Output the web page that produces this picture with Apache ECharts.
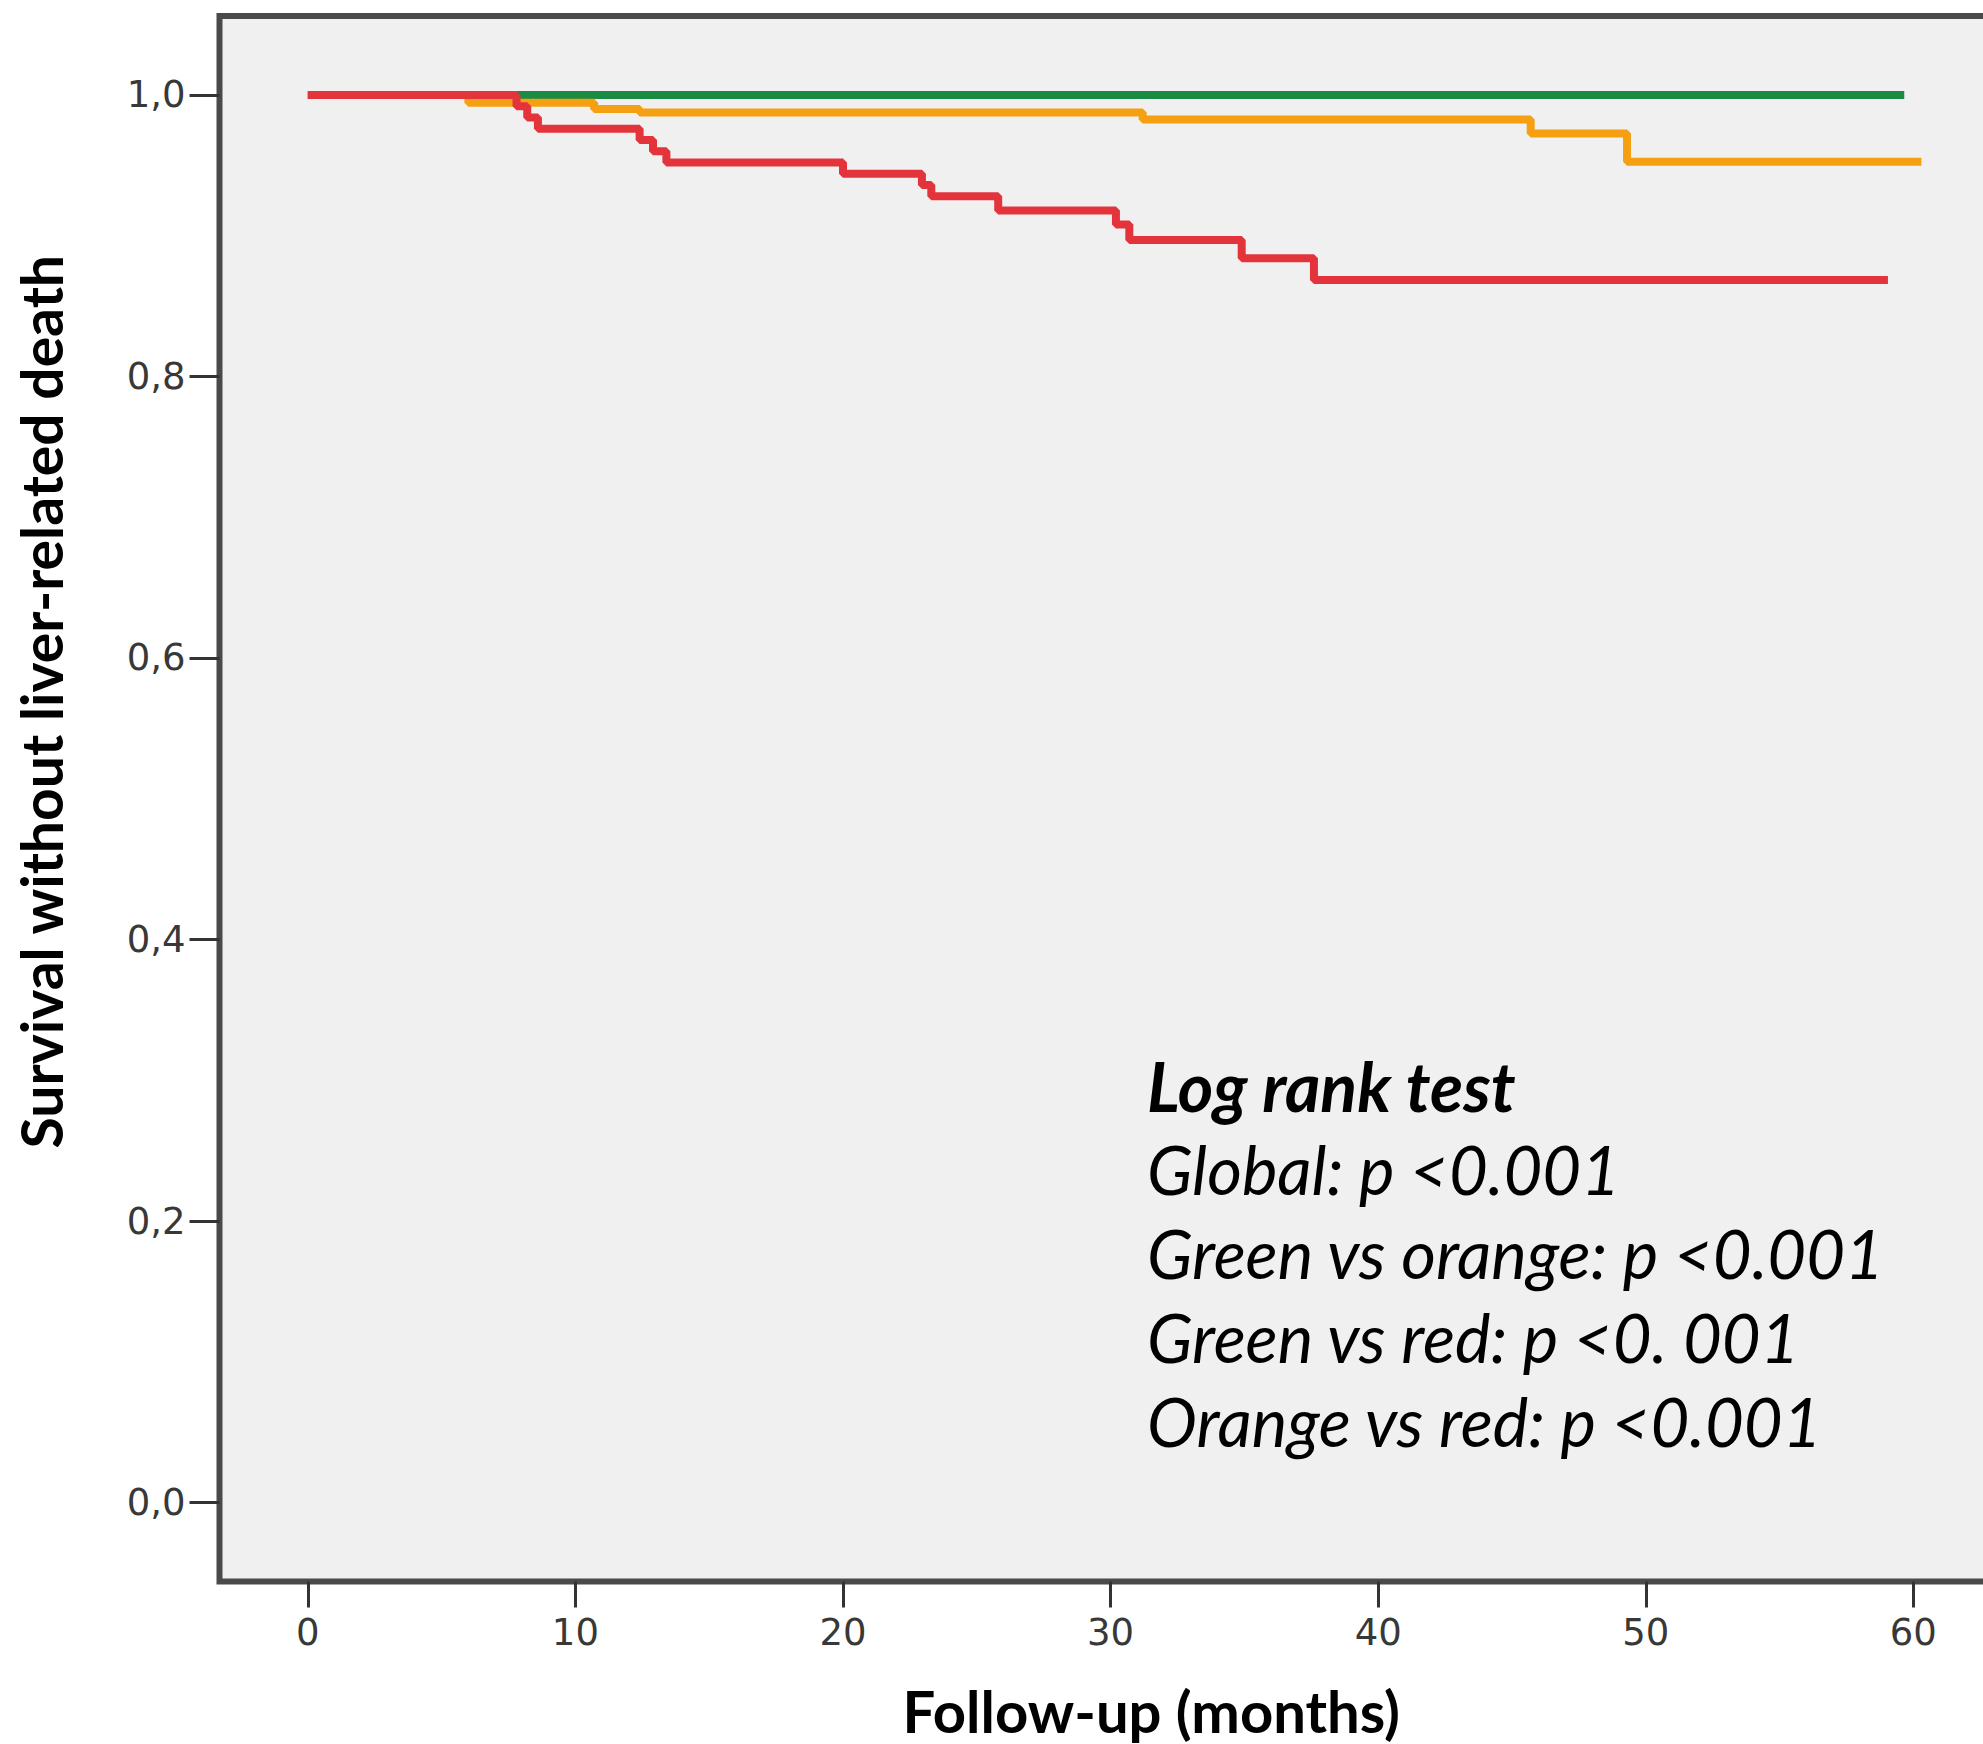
<!DOCTYPE html>
<html><head><meta charset="utf-8">
<script src="https://cdn.jsdelivr.net/npm/echarts@6/dist/echarts.min.js"></script>
<style>html,body{margin:0;padding:0;background:#fff;}#c{width:1983px;height:1744px;}</style>
</head><body><div id="c"></div>
<script>
// ---- data ----
const greenTimes = [0, 59.66];
const greenSurv  = [1.0, 1.0];
const orangeTimes = [0, 6.0, 10.7, 12.4, 31.2, 45.7, 49.3, 60.3];
const orangeSurv  = [1.0, 0.9945, 0.990, 0.9875, 0.9825, 0.9727, 0.9526, 0.9526];
const redTimes = [0, 7.8, 8.2, 8.6, 12.4, 12.9, 13.4, 20.0, 22.95, 23.3, 25.8, 30.2, 30.7, 34.9, 37.6, 59.05];
const redSurv  = [1.0, 0.992, 0.984, 0.976, 0.968, 0.960, 0.952, 0.944, 0.936, 0.928, 0.918, 0.908, 0.897, 0.884, 0.8686, 0.8686];
const xTicks = [0, 10, 20, 30, 40, 50, 60];
const xTickLabels = ['0', '10', '20', '30', '40', '50', '60'];
const yTicks = [0, 0.2, 0.4, 0.6, 0.8, 1.0];
const yTickLabels = ['0,0', '0,2', '0,4', '0,6', '0,8', '1,0'];
const xTitle = 'Follow-up (months)';
const yTitle = 'Survival without liver-related death';
const annotationTitle = 'Log rank test';
const annotationLines = ['Global: p <0.001', 'Green vs orange: p <0.001', 'Green vs red: p <0. 001', 'Orange vs red: p <0.001'];

// ---- chart ----
const toPairs = (ts, vs) => ts.map((t, i) => [t, vs[i]]);
const lookup = (ticks, labels) => v => {
  const i = ticks.findIndex(t => Math.abs(t - v) < 1e-9);
  return i >= 0 ? labels[i] : '';
};
const chart = echarts.init(document.getElementById('c'), null, {renderer: 'svg'});
const tickFont = {fontFamily: 'DejaVu Sans', fontSize: 37, color: '#383838'};
chart.setOption({
  animation: false,
  backgroundColor: '#ffffff',
  grid: {
    left: 219.5, right: -20, top: 16, bottom: 162.5,
    show: true, backgroundColor: '#f0f0f0', borderColor: '#4a4a4a', borderWidth: 6,
    containLabel: false, outerBoundsMode: 'none'
  },
  title: {
    left: 1147, top: 1043, padding: 0,
    text: '{b|' + annotationTitle + '}\n' + annotationLines.map(s => '{i|' + s + '}').join('\n'),
    textStyle: {
      rich: {
        b: {fontFamily: 'Lato', fontStyle: 'italic', fontWeight: 'bold', fontSize: 68, lineHeight: 84, color: '#000'},
        i: {fontFamily: 'Lato', fontStyle: 'italic', fontWeight: 'normal', fontSize: 67, lineHeight: 84, color: '#000'}
      }
    }
  },
  xAxis: {
    type: 'value', min: -3.30, max: 63.35,
    axisLine: {show: false, onZero: false},
    splitLine: {show: false},
    axisTick: {show: true, length: 26, customValues: xTicks, lineStyle: {color: '#333', width: 3}},
    axisLabel: Object.assign({customValues: xTicks, margin: 32, formatter: lookup(xTicks, xTickLabels)}, tickFont),
    name: xTitle, nameLocation: 'middle', nameGap: 100,
    nameTextStyle: {fontFamily: 'Lato', fontWeight: 'bold', fontSize: 58, color: '#000', padding: [0, 0, 0, 80]}
  },
  yAxis: {
    type: 'value', min: -0.0561, max: 1.0561,
    axisLine: {show: false, onZero: false},
    splitLine: {show: false},
    axisTick: {show: true, length: 30, customValues: yTicks, lineStyle: {color: '#333', width: 3}},
    axisLabel: Object.assign({customValues: yTicks, margin: 34, formatter: lookup(yTicks, yTickLabels)}, tickFont),
    name: yTitle, nameLocation: 'middle', nameGap: 150, nameRotate: 90,
    nameTextStyle: {fontFamily: 'Lato', fontWeight: 'bold', fontSize: 57, color: '#000', padding: [0, 0, 0, 194]}
  },
  series: [
    {name: 'Green', type: 'line', step: 'end', symbol: 'none', data: toPairs(greenTimes, greenSurv),
     lineStyle: {color: '#1b8a42', width: 8}, itemStyle: {color: '#1b8a42'}},
    {name: 'Orange', type: 'line', step: 'end', symbol: 'none', data: toPairs(orangeTimes, orangeSurv),
     lineStyle: {color: '#f4a012', width: 8}, itemStyle: {color: '#f4a012'}},
    {name: 'Red', type: 'line', step: 'end', symbol: 'none', data: toPairs(redTimes, redSurv),
     lineStyle: {color: '#e3343c', width: 8}, itemStyle: {color: '#e3343c'}}
  ]
});
</script></body></html>
